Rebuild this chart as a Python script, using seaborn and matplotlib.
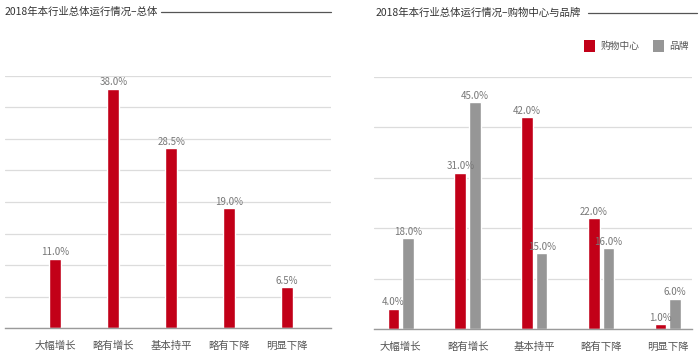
import matplotlib
matplotlib.use("Agg")
import matplotlib.pyplot as plt
import seaborn as sns
import pandas as pd
from matplotlib.lines import Line2D
from matplotlib.patches import Patch

sns.set_theme(style="white")
plt.rcParams['font.family'] = ['Noto Sans CJK SC', 'DejaVu Sans']
plt.rcParams['font.weight'] = 'light'

categories = ["大幅增长", "略有增长", "基本持平", "略有下降", "明显下降"]
overall = [11.0, 38.0, 28.5, 19.0, 6.5]
mall = [4.0, 31.0, 42.0, 22.0, 1.0]
brand = [18.0, 45.0, 15.0, 16.0, 6.0]
series_names = ["购物中心", "品牌"]
title_left = "2018年本行业总体运行情况–总体"
title_right = "2018年本行业总体运行情况–购物中心与品牌"

RED = "#C20018"
GRAY = "#969696"
TXT = "#777777"

W, H = 700, 351
fig = plt.figure(figsize=(7, 3.51), dpi=100)

def px_axes(l, t, r, b):
    return fig.add_axes([l / W, 1 - b / H, (r - l) / W, (b - t) / H])

def style(ax, ymax, step):
    ax.set_ylim(0, ymax)
    ax.set_yticks(range(0, ymax + 1, step))
    ax.yaxis.grid(True, color="#dcdcdc", linewidth=0.9)
    ax.set_axisbelow(True)
    ax.tick_params(axis="y", left=False, labelleft=False)
    ax.tick_params(axis="x", bottom=False, labelsize=7.5, labelcolor="#555555", pad=3)
    for s in ["top", "right", "left"]:
        ax.spines[s].set_visible(False)
    ax.spines["bottom"].set_color("#9a9a9a")
    ax.spines["bottom"].set_linewidth(1.0)
    ax.set_xlabel("")
    ax.set_ylabel("")

# Left chart
df1 = pd.DataFrame({"cat": categories, "val": overall})
ax1 = px_axes(5, 76, 331, 328)
sns.barplot(data=df1, x="cat", y="val", color=RED, width=0.21, ax=ax1, saturation=1)
style(ax1, 40, 5)
ax1.set_xlim(-0.87, 4.76)
for c in ax1.containers:
    ax1.bar_label(c, fmt="%.1f%%", padding=1, fontsize=7, color=TXT)

# Right chart
df2 = pd.DataFrame({
    "cat": categories * 2,
    "val": mall + brand,
    "grp": [series_names[0]] * 5 + [series_names[1]] * 5,
})
ax2 = px_axes(374, 77, 692, 329)
sns.barplot(data=df2, x="cat", y="val", hue="grp", palette=[RED, GRAY],
            width=0.435, gap=0.2, ax=ax2, saturation=1, legend=False)
style(ax2, 50, 10)
ax2.set_xlim(-0.40, 4.36)
for c in ax2.containers:
    ax2.bar_label(c, fmt="%.1f%%", padding=1, fontsize=7, color=TXT)

# Titles with rules
fig.text(5 / W, 1 - 12 / H, title_left, fontsize=7.5, color="#333333", va="center", ha="left")
fig.add_artist(Line2D([161 / W, 331 / W], [1 - 12 / H, 1 - 12 / H], color="#555555", linewidth=0.9))
fig.text(376 / W, 1 - 13 / H, title_right, fontsize=7.5, color="#333333", va="center", ha="left")
fig.add_artist(Line2D([588 / W, 697 / W], [1 - 13 / H, 1 - 13 / H], color="#555555", linewidth=0.9))

handles = [Patch(facecolor=RED, edgecolor="none"), Patch(facecolor=GRAY, edgecolor="none")]
fig.legend(handles, series_names, loc="center right", bbox_to_anchor=(694 / W, 1 - 46 / H),
           ncol=2, frameon=False, fontsize=7, handlelength=1.15, handleheight=1.4,
           handletextpad=0.55, columnspacing=1.4, borderpad=0, labelcolor="#555555")

fig.savefig("out.png", dpi=100)
